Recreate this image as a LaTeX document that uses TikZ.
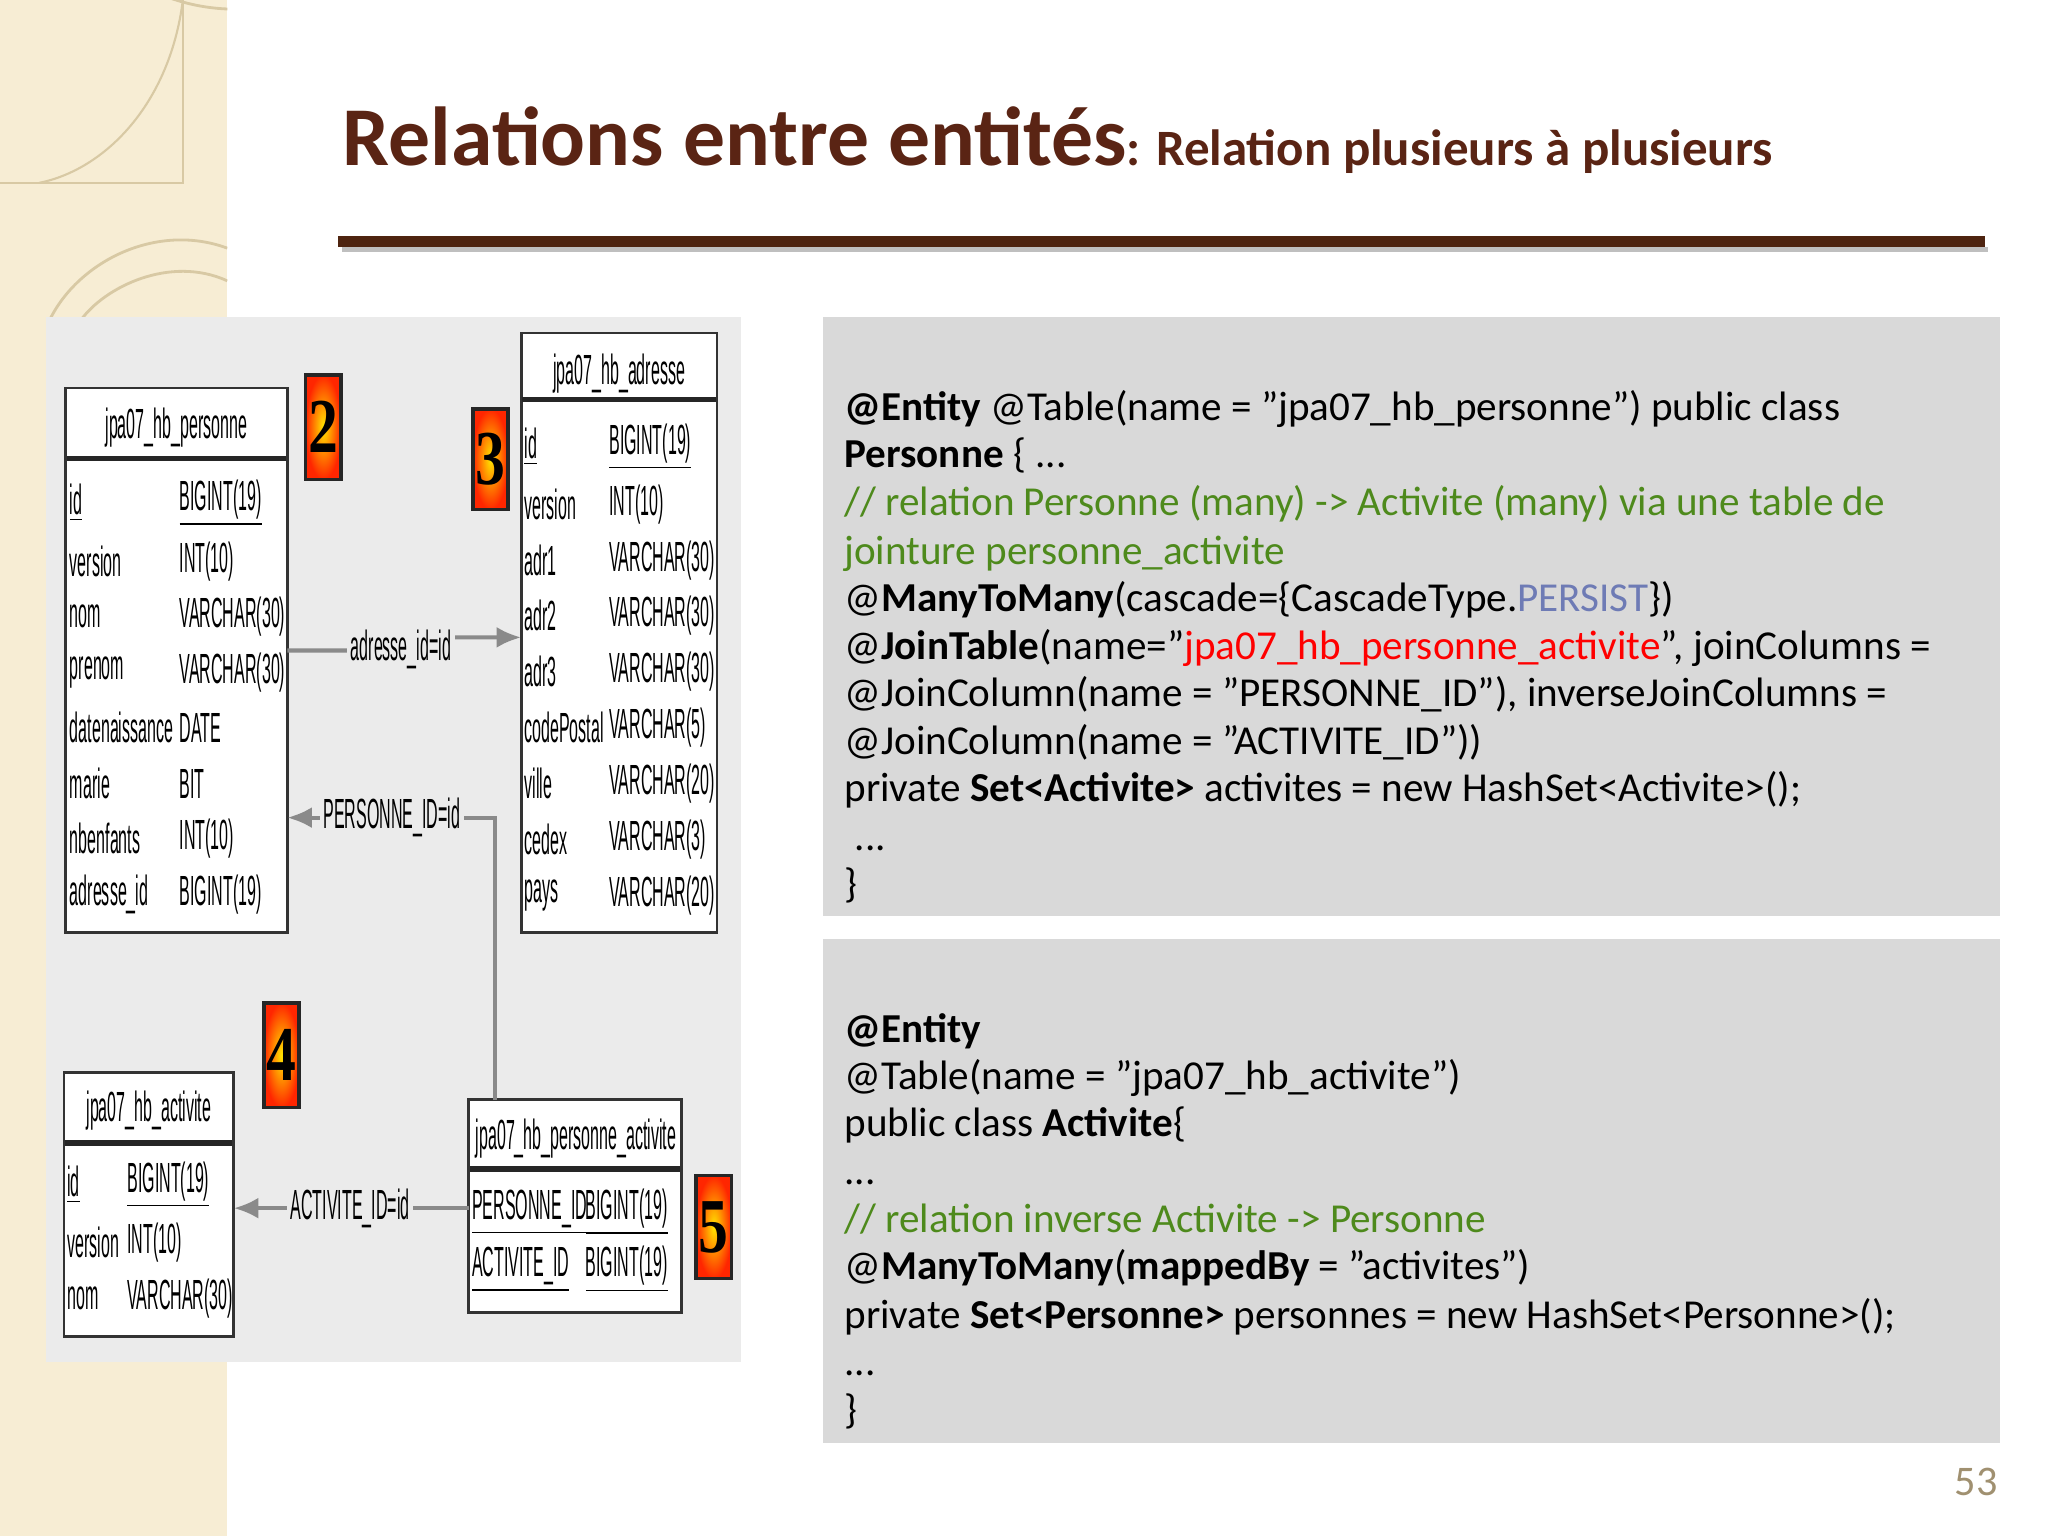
\documentclass[tikz,border=0pt]{standalone}
\usetikzlibrary{arrows.meta}
\usepackage{fontspec}
\setmainfont{Carlito}
\newfontfamily\narrowfont[FakeStretch=0.38]{Liberation Sans}
\newfontfamily\digitfont{Liberation Serif}
\newcommand\qq{\char34\relax}
\definecolor{titlebrown}{HTML}{5A2414}
\definecolor{rulebrown}{HTML}{4E2410}
\definecolor{strip}{HTML}{F7EDD4}
\definecolor{stripline}{HTML}{D8C9A4}
\definecolor{panelA}{HTML}{EBEBEB}
\definecolor{panelB}{HTML}{D9D9D9}
\definecolor{cgreen}{HTML}{4E8A1C}
\definecolor{cblue}{HTML}{6E7BB5}
\definecolor{pagenum}{HTML}{A09070}
\definecolor{conn}{HTML}{8A8A8A}
\begin{document}
\begin{tikzpicture}[x=0.01306cm,y=-0.01306cm,
  tbl/.style={draw=black!80,line width=0.8pt,fill=white},
  hdr/.style={font=\narrowfont\fontsize{12}{12}\selectfont,anchor=center,inner sep=0},
  fld/.style={font=\narrowfont\fontsize{12}{12}\selectfont,anchor=west,inner sep=0},
  lbl/.style={font=\narrowfont\fontsize{12}{12}\selectfont,fill=panelA,inner sep=1pt},
  cline/.style={font=\fontsize{11.7}{11.7}\selectfont,anchor=base west,inner sep=0},
  cn/.style={draw=conn,line width=1.2pt},
  arr/.style={-{Latex[length=7pt,width=6pt]}}
  ]
\useasboundingbox (0,0) rectangle (1568,1176);
\fill[white] (0,0) rectangle (1568,1176);
% left strip
\fill[strip] (0,0) rectangle (174,1176);
\begin{scope}
\clip (0,0) rectangle (174,1176);
\draw[stripline,line width=0.6pt] (0,140) -- (140,140) -- (140,0);
\draw[stripline,line width=0.8pt] (180,7) arc[start angle=90,end angle=200,radius=150];
\draw[stripline,line width=0.6pt] (140,0) .. controls (130,80) and (80,130) .. (30,140);
\draw[stripline,line width=0.8pt] (174,190) .. controls (120,170) and (60,200) .. (38,245);
\draw[stripline,line width=0.8pt] (174,215) .. controls (130,195) and (80,220) .. (62,245);
\end{scope}
% title
\node[anchor=base west,inner sep=0,text=titlebrown] (title) at (262,127)
  {\fontsize{23.8}{23.8}\selectfont\bfseries Relations entre entités\fontsize{14.5}{14.5}\selectfont: Relation plusieurs à plusieurs};
\fill[black!25] (262,189) rectangle (1522,193);
\fill[rulebrown] (259,181) rectangle (1520,189);
% panels
\fill[panelA] (35,243) rectangle (567,1043);
\fill[panelB] (630,243) rectangle (1531,701);
\fill[panelB] (630,719) rectangle (1531,1105);
% ---- tables
% personne
\draw[tbl] (50,297) rectangle (220,714);
\draw[black!85,line width=1.6pt] (51,351) -- (219,351);
\node[hdr] (hP) at (135,327) {jpa07\_hb\_personne};
\foreach \n/\t/\y [count=\i] in {\underline{id}/\underline{BIGINT(19)}/385,version/INT(10)/430,nom/VARCHAR(30)/472,prenom/VARCHAR(30)/515,datenaissance/DATE/557,marie/BIT/600,nbenfants/INT(10)/642,adresse\_id/BIGINT(19)/685}{
  \node[fld] (pn\i) at (53,\y) {\n};
  \node[fld] (pt\i) at (137,\y) {\t};}
% adresse
\draw[tbl] (399,255) rectangle (549,714);
\draw[black!85,line width=1.6pt] (400,306) -- (548,306);
\node[hdr] (hA) at (474,286) {jpa07\_hb\_adresse};
\foreach \n/\t/\y [count=\i] in {\underline{id}/\underline{BIGINT(19)}/342,version/INT(10)/386,adr1/VARCHAR(30)/429,adr2/VARCHAR(30)/471,adr3/VARCHAR(30)/514,codePostal/VARCHAR(5)/557,ville/VARCHAR(20)/600,cedex/VARCHAR(3)/643,pays/VARCHAR(20)/686}{
  \node[fld] (an\i) at (401,\y) {\n};
  \node[fld] (at\i) at (466,\y) {\t};}
% activite
\draw[tbl] (49,821) rectangle (179,1023);
\draw[black!85,line width=1.6pt] (50,875) -- (178,875);
\node[hdr] (hC) at (114,850) {jpa07\_hb\_activite};
\foreach \n/\t/\y [count=\i] in {\underline{id}/\underline{BIGINT(19)}/907,version/INT(10)/951,nom/VARCHAR(30)/994}{
  \node[fld] (cn\i) at (51,\y) {\n};
  \node[fld] (ct\i) at (97,\y) {\t};}
% personne_activite
\draw[tbl] (359,842) rectangle (522,1005);
\draw[black!85,line width=1.6pt] (360,895) -- (521,895);
\node[hdr] (hPA) at (441,872) {jpa07\_hb\_personne\_activite};
\node[fld] (xn1) at (361,928) {\underline{PERSONNE\_ID}};
\node[fld] (xt1) at (448,928) {\underline{BIGINT(19)}};
\node[fld] (xn2) at (361,972) {\underline{ACTIVITE\_ID}};
\node[fld] (xt2) at (448,972) {\underline{BIGINT(19)}};
% coordinates
\coordinate (P) at (220,498); \coordinate (A) at (399,488);
\coordinate (Pin) at (220,626); \coordinate (bend) at (379,626); \coordinate (PAtop) at (379,842);
\coordinate (PAl) at (359,925); \coordinate (Cr) at (179,925);
% connectors
\draw[cn,arr] (P) -- (307,498) -- (340,488) -- (A);
\node[lbl] (l1) at (307,497) {adresse\_id=id};
\draw[cn,arr] (PAtop) -- (bend) -- (Pin);
\node[lbl] (l2) at (300,626) {PERSONNE\_ID=id};
\draw[cn,arr] (PAl) -- (Cr);
\node[lbl] (l3) at (268,925) {ACTIVITE\_ID=id};
% number boxes
\foreach \nm/\xa/\ya/\xb/\yb/\d in {b2/234/287/261/367/2,b3/362/313/389/390/3,b4/202/768/229/848/4,b5/533/900/560/979/5}{
  \shade[inner color=yellow!80!orange,outer color=red!70!orange] (\xa,\ya) rectangle (\xb,\yb);
  \draw[black!85,line width=1pt] (\xa,\ya) rectangle (\xb,\yb);
  \node[font=\digitfont\bfseries\fontsize{17}{17}\selectfont,inner sep=0,yscale=1.3] (\nm) at ({(\xa+\xb)/2},{(\ya+\yb)/2}) {\d};}
% ---- code 1
\node[cline] (c1) at (646,322) {\textbf{@Entity} @Table(name = \qq jpa07\_hb\_personne\qq) public class};
\node[cline] (c2) at (646,358) {\textbf{Personne} \{ ...};
\node[cline,text=cgreen] (c3) at (646,395) {// relation Personne (many) -> Activite (many) via une table de};
\node[cline,text=cgreen] (c4) at (646,432) {jointure personne\_activite};
\node[cline] (c5) at (646,468) {@\textbf{ManyToMany}(cascade=\{CascadeType.\textcolor{cblue}{PERSIST}\})};
\node[cline] (c6) at (646,505) {@\textbf{JoinTable}(name=\qq\textcolor{red}{jpa07\_hb\_personne\_activite}\qq, joinColumns =};
\node[cline] (c7) at (646,541) {@JoinColumn(name = \qq PERSONNE\_ID\qq), inverseJoinColumns =};
\node[cline] (c8) at (646,578) {@JoinColumn(name = \qq ACTIVITE\_ID\qq))};
\node[cline] (c9) at (646,614) {private \textbf{Set<Activite>} activites = new HashSet<Activite>();};
\node[cline] (c10) at (654,651) {...};
\node[cline] (c11) at (646,687) {\}};
% ---- code 2
\node[cline] (d1) at (646,798) {\textbf{@Entity}};
\node[cline] (d2) at (646,834) {@Table(name = \qq jpa07\_hb\_activite\qq)};
\node[cline] (d3) at (646,870) {public class \textbf{Activite}\{};
\node[cline] (d4) at (646,907) {...};
\node[cline,text=cgreen] (d5) at (646,944) {// relation inverse Activite -> Personne};
\node[cline] (d6) at (646,980) {@\textbf{ManyToMany}(\textbf{mappedBy} = \qq activites\qq)};
\node[cline] (d7) at (646,1017) {private \textbf{Set<Personne>} personnes = new HashSet<Personne>();};
\node[cline] (d8) at (646,1053) {...};
\node[cline] (d9) at (646,1090) {\}};
\node[anchor=base east,inner sep=0,text=pagenum,font=\fontsize{12}{12}\selectfont] (pg) at (1530,1145) {53};
\end{tikzpicture}
\end{document}
